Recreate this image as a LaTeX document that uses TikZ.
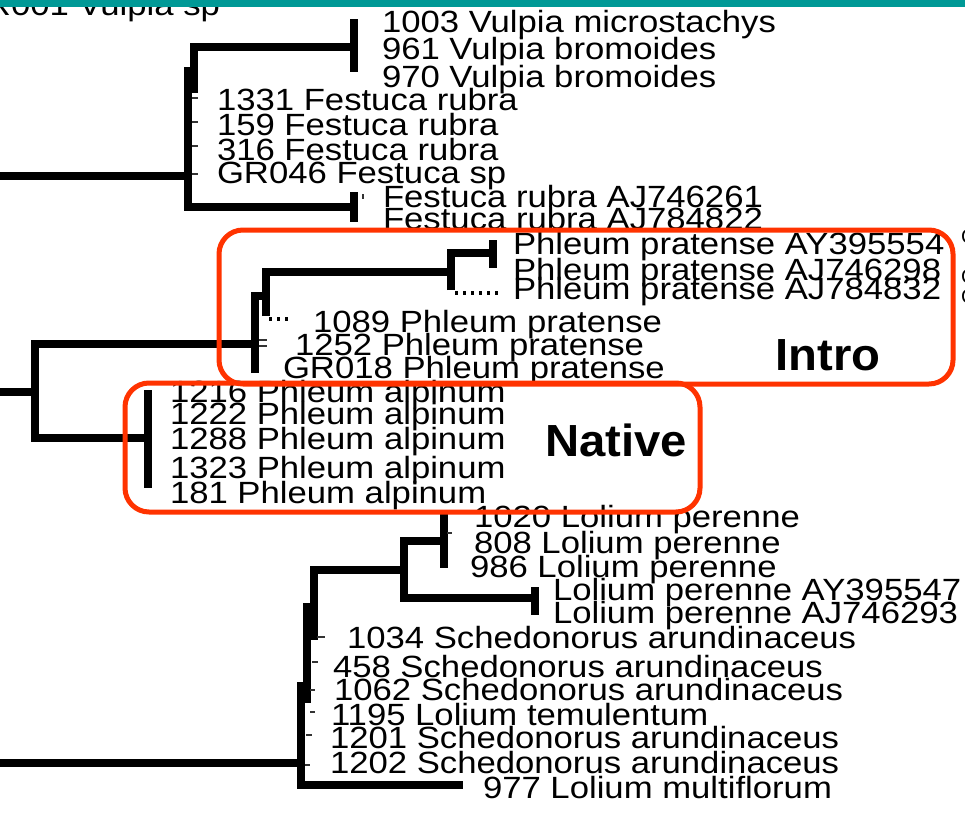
\documentclass[tikz,border=0pt]{standalone}
\usepackage{fontspec}
\usepackage{graphicx}
\setmainfont{Liberation Sans}
\definecolor{barteal}{RGB}{0,153,150}
\definecolor{boxred}{RGB}{255,51,0}
% taxon label: slightly widened sans text
\newcommand\taxon[1]{\scalebox{1.13}[1]{\fontsize{30.7}{30}\selectfont #1}}
\newcommand\tag[1]{\scalebox{1.05}[1]{\fontsize{45}{45}\selectfont\bfseries #1}}
\tikzset{
  branch/.style={line width=7.8pt, line join=miter, line cap=butt},
  tipbar/.style={line width=7.8pt, line cap=butt},
  twig/.style={line width=2pt, black!80},
  dotbranch/.style={line width=3.5pt, dash pattern=on 3pt off 5pt},
  leaf/.style={anchor=base west, inner sep=0pt, outer sep=0pt},
  hlbox/.style={draw=boxred, line width=5pt, rounded corners=24pt, inner sep=0pt},
  tagtext/.style={inner sep=0pt}
}
\begin{document}
\begin{tikzpicture}[x=1pt, y=-1pt]
\useasboundingbox (0,0) rectangle (965,819);

% ---------------- Vulpia / Festuca clade ----------------
\coordinate (r1) at (0,176);
\coordinate (n1) at (188,176);
\coordinate (n1t) at (188,67);
\coordinate (n1b) at (188,207);
\coordinate (n2t) at (194,47);
\coordinate (n2b) at (194,93);
\coordinate (vulp) at (354,47);
\coordinate (vulpT) at (354,19);
\coordinate (vulpB) at (354,72);
\coordinate (festAJ) at (354,207);
\coordinate (festT) at (354,192);
\coordinate (festB) at (354,222);
\draw[branch] (r1) -- (n1);
\draw[branch] (n1t) -- (n1b) -- (festAJ);
\draw[branch] (n2b) -- (n2t) -- (vulp);
\draw[tipbar] (vulpT) -- (vulpB);
\draw[tipbar] (festT) -- (festB);
% zero-length twigs
\foreach \yy [count=\i] in {98,122,146,174} {
  \coordinate (ft\i a) at (192,\yy);
  \coordinate (ft\i b) at (198,\yy);
  \draw[twig] (ft\i a) -- (ft\i b);
}
\coordinate (fx1) at (363,194);
\coordinate (fx2) at (363,199);
\draw[twig] (fx1) -- (fx2);

% ---------------- Phleum clade ----------------
\coordinate (r2) at (0,392);
\coordinate (n3) at (35,392);
\coordinate (n3t) at (35,344);
\coordinate (n3b) at (35,438);
\coordinate (alp) at (148,438);
\coordinate (alpT) at (148,390);
\coordinate (alpB) at (148,488);
\coordinate (n4) at (255,344);
\coordinate (n4t) at (255,296);
\coordinate (n4b) at (255,373);
\coordinate (n5s) at (266,296);
\coordinate (n5t) at (266,272);
\coordinate (n5b) at (266,316);
\coordinate (n6) at (451,272);
\coordinate (n6t) at (451,253);
\coordinate (n6b) at (451,290);
\coordinate (pp) at (493,253);
\coordinate (ppT) at (493,240);
\coordinate (ppB) at (493,268);
\draw[branch] (r2) -- (n3);
\draw[branch] (alp) -- (n3b) -- (n3t) -- (n4);
\draw[branch] (n4b) -- (n4t) -- (n5s);
\draw[branch] (n5b) -- (n5t) -- (n6);
\draw[branch] (n6b) -- (n6t) -- (pp);
\draw[tipbar] (ppT) -- (ppB);
\draw[tipbar] (alpT) -- (alpB);
\coordinate (d1a) at (455,293);
\coordinate (d1b) at (500,293);
\draw[dotbranch] (d1a) -- (d1b);
\coordinate (d2a) at (269,319);
\coordinate (d2b) at (292,319);
\draw[dotbranch] (d2a) -- (d2b);
\coordinate (q1a) at (259,340);
\coordinate (q1b) at (267,340);
\coordinate (q2a) at (259,346);
\coordinate (q2b) at (267,346);
\draw[twig] (q1a) -- (q1b);
\draw[twig] (q2a) -- (q2b);

% ---------------- Lolium / Schedonorus clade ----------------
\coordinate (r3) at (0,763);
\coordinate (n7) at (301,763);
\coordinate (n7t) at (301,682);
\coordinate (n7b) at (301,785);
\coordinate (lm) at (463,785);
\coordinate (n8t) at (307,603);
\coordinate (n8b) at (307,703);
\coordinate (n9t) at (314,570);
\coordinate (n9b) at (314,640);
\coordinate (n10) at (404,570);
\coordinate (n10t) at (404,541);
\coordinate (n10b) at (404,598);
\coordinate (lp1) at (444,541);
\coordinate (lp1T) at (444,512);
\coordinate (lp1B) at (444,568);
\coordinate (lp2) at (535,598);
\coordinate (lp2T) at (535,587);
\coordinate (lp2B) at (535,615);
\draw[branch] (r3) -- (n7);
\draw[branch] (n7t) -- (n7b) -- (lm);
\draw[branch] (n8t) -- (n8b);
\draw[branch] (n9b) -- (n9t) -- (n10);
\draw[branch] (lp1) -- (n10t) -- (n10b) -- (lp2);
\draw[tipbar] (lp1T) -- (lp1B);
\draw[tipbar] (lp2T) -- (lp2B);
\coordinate (lt1) at (447,533);
\coordinate (lt2) at (452,533);
\draw[twig] (lt1) -- (lt2);
\foreach \xa/\xb/\yy [count=\i] in {317/325/637, 312/318/662, 310/315/690, 310/315/712, 306/312/735, 305/310/765} {
  \coordinate (st\i a) at (\xa,\yy);
  \coordinate (st\i b) at (\xb,\yy);
  \draw[twig] (st\i a) -- (st\i b);
}

% ---------------- leaf labels ----------------
\node[leaf] (v0) at (-14,15) {\taxon{R001 Vulpia sp}};
\node[leaf] (v1) at (382,32) {\taxon{1003 Vulpia microstachys}};
\node[leaf] (v2) at (382,59) {\taxon{961 Vulpia bromoides}};
\node[leaf] (v3) at (382,87) {\taxon{970 Vulpia bromoides}};
\node[leaf] (f1) at (217,110) {\taxon{1331 Festuca rubra}};
\node[leaf] (f2) at (217,135) {\taxon{159 Festuca rubra}};
\node[leaf] (f3) at (217,160) {\taxon{316 Festuca rubra}};
\node[leaf] (f4) at (217,183) {\taxon{GR046 Festuca sp}};
\node[leaf] (f5) at (383,207) {\taxon{Festuca rubra AJ746261}};
\node[leaf] (f6) at (383,229) {\taxon{Festuca rubra AJ784822}};
\node[leaf] (p1) at (513,254) {\taxon{Phleum pratense AY395554}};
\node[leaf] (p2) at (513,280) {\taxon{Phleum pratense AJ746298}};
\node[leaf] (p3) at (513,299) {\taxon{Phleum pratense AJ784832}};
\node[leaf] (c1) at (961,243) {\fontsize{20}{20}\selectfont C};
\node[leaf] (c2) at (961,283) {\fontsize{20}{20}\selectfont C};
\node[leaf] (c3) at (961,303) {\fontsize{20}{20}\selectfont C};
\node[leaf] (a1) at (313,332) {\taxon{1089 Phleum pratense}};
\node[leaf] (a2) at (295,355) {\taxon{1252 Phleum pratense}};
\node[leaf] (a3) at (283,378) {\taxon{GR018 Phleum pratense}};
\node[leaf] (b1) at (170,402) {\taxon{1216 Phleum alpinum}};
\node[leaf] (b2) at (170,424) {\taxon{1222 Phleum alpinum}};
\node[leaf] (b3) at (170,449) {\taxon{1288 Phleum alpinum}};
\node[leaf] (b4) at (170,478) {\taxon{1323 Phleum alpinum}};
\node[leaf] (b5) at (170,503) {\taxon{181 Phleum alpinum}};
\node[leaf] (l1) at (474,527) {\taxon{1020 Lolium perenne}};
\node[leaf] (l2) at (474,553) {\taxon{808 Lolium perenne}};
\node[leaf] (l3) at (470,577) {\taxon{986 Lolium perenne}};
\node[leaf] (l4) at (553,600) {\taxon{Lolium perenne AY395547}};
\node[leaf] (l5) at (553,623) {\taxon{Lolium perenne AJ746293}};
\node[leaf] (s1) at (347,648) {\taxon{1034 Schedonorus arundinaceus}};
\node[leaf] (s2) at (333,677) {\taxon{458 Schedonorus arundinaceus}};
\node[leaf] (s3) at (334,700) {\taxon{1062 Schedonorus arundinaceus}};
\node[leaf] (s4) at (331,725) {\taxon{1195 Lolium temulentum}};
\node[leaf] (s5) at (330,748) {\taxon{1201 Schedonorus arundinaceus}};
\node[leaf] (s6) at (330,773) {\taxon{1202 Schedonorus arundinaceus}};
\node[leaf] (s7) at (483,798) {\taxon{977 Lolium multiflorum}};

% ---------------- highlighted groups ----------------
\node[hlbox, minimum width=734pt, minimum height=154pt] (introbox) at (586,307) {};
\node[hlbox, minimum width=575pt, minimum height=129pt] (nativebox) at (412.5,447.5) {};
\node[tagtext] (intro) at (828,355) {\tag{Intro}};
\node[tagtext] (native) at (616,440) {\tag{Native}};

% header strip
\fill[barteal] (0,0) rectangle (965,6.5);
\end{tikzpicture}
\end{document}
